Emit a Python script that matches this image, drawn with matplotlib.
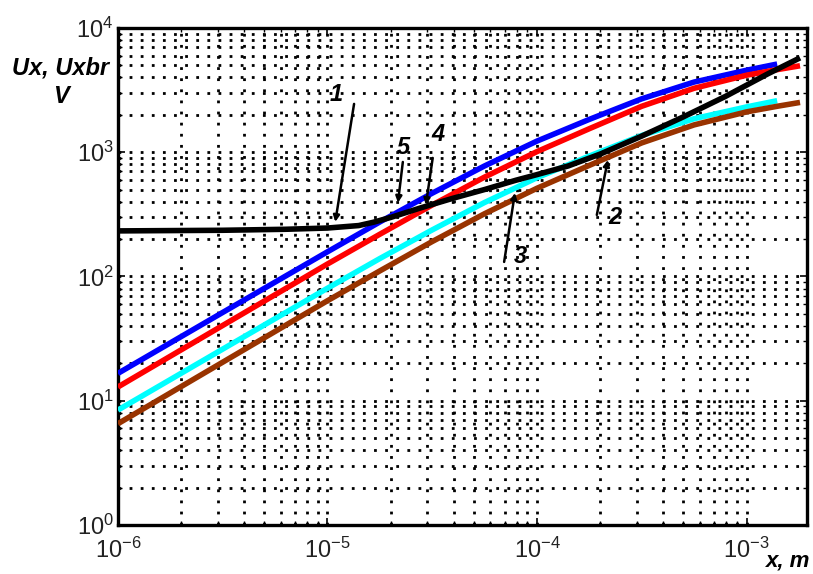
import matplotlib
matplotlib.use("Agg")
import matplotlib.pyplot as plt

plt.rcParams['font.family'] = ['Liberation Sans', 'DejaVu Sans']
plt.rcParams['mathtext.fontset'] = 'custom'
plt.rcParams['mathtext.rm'] = 'Liberation Sans'
plt.rcParams['mathtext.it'] = 'Liberation Sans:italic'

# ---- data ----
x_short = [1e-6, 3.16e-6, 1e-5, 1.78e-5, 3.16e-5, 5.62e-5, 1e-4, 1.78e-4, 3.16e-4, 5.62e-4, 1e-3, 1.4e-3]
x_long = [1e-6, 3.16e-6, 1e-5, 1.78e-5, 3.16e-5, 5.62e-5, 1e-4, 1.78e-4, 3.16e-4, 5.62e-4, 1e-3, 1.4e-3, 1.8e-3]

# curve 5 (blue)
u5 = [16.6, 51.3, 158, 275, 468, 776, 1230, 1841, 2692, 3673, 4571, 5129]
# curve 3 (cyan)
u3 = [8.41, 26.0, 80.4, 139.6, 237, 394, 624, 933, 1365, 1862, 2317, 2600]
# curve 4 (red)
u4 = [12.9, 40.3, 126, 219, 376, 631, 1012, 1549, 2344, 3273, 4169, 4624, 4966]
# curve 2 (brown)
u2 = [6.53, 20.4, 63.8, 111, 191, 320, 513, 785, 1189, 1660, 2113, 2344, 2518]
# curve 1 (black)
x1 = [1e-6, 3.16e-6, 6.3e-6, 1e-5, 1.41e-5, 1.66e-5, 2.0e-5, 2.82e-5, 3.98e-5, 5.62e-5,
      7.94e-5, 1e-4, 1.41e-4, 2.0e-4, 3.16e-4, 5.0e-4, 7.94e-4, 1.26e-3, 1.8e-3]
u1 = [232.8, 235.5, 239.9, 245.5, 257, 273.5, 298.5, 359, 426.6, 501,
      595.7, 660.7, 776, 966, 1349, 1928, 2818, 4266, 5754]

labels = ['1', '2', '3', '4', '5']

fig = plt.figure(figsize=(8.13, 5.74), dpi=100)
ax = fig.add_axes([0.145, 0.0854, 0.848, 0.8658])

lw = 4.0
ax.plot(x_short, u5, color='#0000ff', lw=lw, zorder=4, solid_capstyle='butt')
ax.plot(x_long, u4, color='#ff0000', lw=lw, zorder=4, solid_capstyle='butt')
ax.plot(x_short, u3, color='#00ffff', lw=lw, zorder=4, solid_capstyle='butt')
ax.plot(x_long, u2, color='#993300', lw=lw, zorder=4, solid_capstyle='butt')
ax.plot(x1, u1, color='black', lw=lw, zorder=5, solid_capstyle='butt')

ax.set_xscale('log')
ax.set_yscale('log')
ax.set_xlim(1e-6, 1.95e-3)
ax.set_ylim(1, 1e4)

ax.set_xticks([1e-6, 1e-5, 1e-4, 1e-3])
ax.set_yticks([1, 10, 100, 1000, 10000])

grid_style = dict(color='black', linestyle=(0, (1, 3)), linewidth=2.0)
ax.grid(True, which='major', **grid_style)
ax.grid(True, which='minor', **grid_style)
ax.set_axisbelow(True)

for sp in ax.spines.values():
    sp.set_linewidth(2.4)

ax.tick_params(which='both', direction='in', top=True, right=True, labelsize=17)
ax.tick_params(which='major', length=5, width=1.2)
ax.tick_params(which='minor', length=3, width=1.0)
ax.tick_params(axis='x', which='major', pad=9)
ax.tick_params(axis='y', which='major', pad=3)
for t in ax.get_xticklabels() + ax.get_yticklabels():
    t.set_color('#222222')

# axis labels
fig.text(0.075, 0.857, 'Ux, Uxbr\nV', ha='center', va='center', fontsize=17,
         fontweight='bold', fontstyle='italic', linespacing=1.3)
fig.text(0.997, 0.004, 'x, m', ha='right', va='bottom', fontsize=16,
         fontweight='bold', fontstyle='italic')

# curve labels with arrows
arrow = dict(arrowstyle='-|>', color='black', lw=1.8, mutation_scale=9, shrinkA=0, shrinkB=0)
font_lab = dict(fontsize=17, fontweight='bold', fontstyle='italic', ha='center', va='center')

def ann(text, tx, ty, sx, sy, ex, ey):
    ax.text(tx, ty, text, zorder=6, **font_lab)
    ax.annotate('', xy=(ex, ey), xytext=(sx, sy), arrowprops=arrow, zorder=6)

ann(labels[0], 1.1e-5, 2900, 1.34e-5, 2450, 1.09e-5, 275)
ann(labels[4], 2.29e-5, 1100, 2.29e-5, 835, 2.17e-5, 392)
ann(labels[3], 3.37e-5, 1380, 3.18e-5, 900, 2.95e-5, 377)
ann(labels[2], 8.3e-5, 144, 6.97e-5, 131, 7.85e-5, 471)
ann(labels[1], 2.35e-4, 296, 1.93e-4, 313, 2.18e-4, 868)

fig.savefig('out.png', dpi=100)
